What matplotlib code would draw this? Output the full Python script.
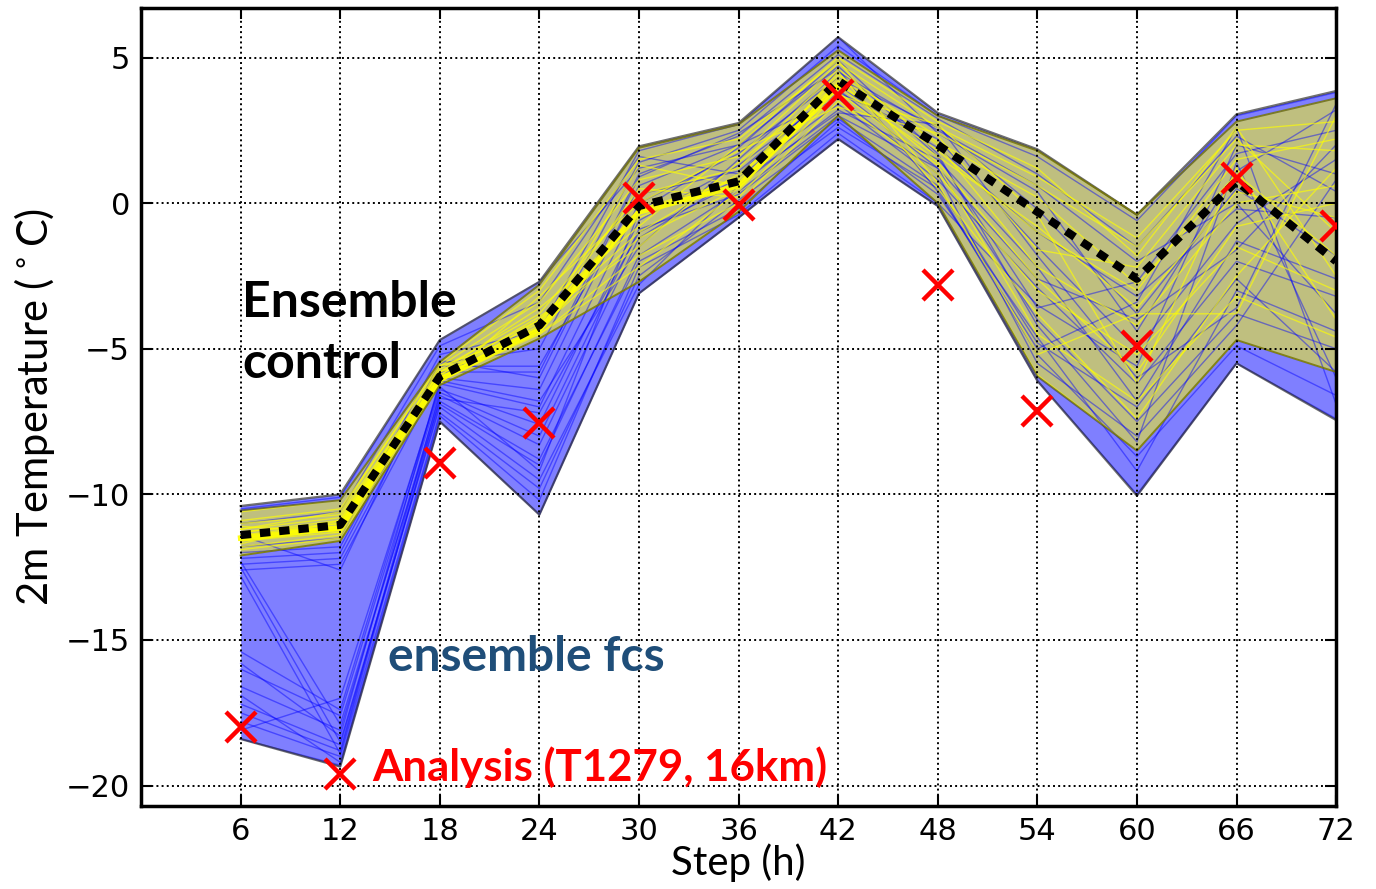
import matplotlib
matplotlib.use('Agg')
import matplotlib.pyplot as plt
import numpy as np

plt.rcParams['font.family'] = 'DejaVu Sans'

steps = [6, 12, 18, 24, 30, 36, 42, 48, 54, 60, 66, 72]

# envelopes of the two ensembles
blue_hi = [-10.4, -10.0, -4.7, -2.7, 1.95, 2.75, 5.7, 3.1, 1.85, -0.4, 3.05, 3.85]
blue_lo = [-18.4, -19.35, -7.5, -10.7, -3.1, -0.5, 2.2, -0.1, -6.1, -10.05, -5.5, -7.45]
yel_hi = [-10.55, -10.2, -5.45, -2.8, 1.9, 2.7, 5.25, 3.0, 1.8, -0.4, 2.8, 3.6]
yel_lo = [-12.1, -11.6, -6.25, -4.65, -2.7, -0.3, 3.0, 0.0, -5.95, -8.5, -4.7, -5.8]

control = [-11.4, -11.05, -5.95, -4.2, -0.1, 0.75, 4.2, 2.0, -0.3, -2.6, 0.75, -2.0]
analysis = [-18.0, -19.6, -8.93, -7.56, 0.17, -0.05, 3.7, -2.8, -7.15, -4.9, 0.86, -0.8]

# individual members (read approximately)
blue_members = [
    [-18.4, -19.3, -7.5, -10.7, -3.1, -0.5, 2.2, -0.1, -6.1, -10.0, -5.5, -7.4],
    [-17.8, -19.0, -7.2, -9.8, -2.5, 0.1, 2.6, 0.5, -5.2, -8.7, -4.9, -6.6],
    [-17.2, -18.6, -6.9, -9.0, -1.8, 0.4, 3.0, 1.2, -4.0, -7.5, -3.8, -5.0],
    [-16.6, -18.1, -6.6, -8.3, -1.2, 0.9, 3.4, 0.8, -2.9, -6.2, -2.0, -3.2],
    [-16.0, -17.6, -6.4, -7.6, -0.6, 1.3, 3.8, 2.2, -1.5, -5.0, -0.7, 1.5],
    [-15.4, -17.4, -6.2, -7.0, 0.0, 1.7, 4.3, 2.6, -0.2, -3.8, 0.5, -1.8],
    [-12.6, -12.4, -6.0, -6.4, 0.6, 2.0, 4.7, 1.6, -3.6, -2.7, 1.7, 2.5],
    [-12.4, -12.2, -5.8, -5.8, 1.0, 2.3, 5.1, 2.9, 1.0, -1.5, 2.3, 0.4],
    [-12.2, -12.0, -5.5, -5.0, 1.4, 2.5, 5.4, 3.0, 1.6, -0.6, 3.0, 3.8],
    [-12.3, -17.9, -6.8, -8.8, -2.0, -0.2, 2.8, 0.3, -4.6, -9.2, -3.0, -4.4],
    [-12.5, -18.5, -7.0, -9.5, -2.8, 0.6, 3.2, 1.5, -2.2, -6.8, -1.3, -2.6],
    [-11.8, -11.5, -5.2, -4.4, 1.8, 2.7, 5.7, 2.4, 0.4, -4.4, 1.1, 3.2],
    [-11.0, -10.6, -4.9, -3.4, 1.6, 1.0, 4.0, 1.9, -1.0, -3.2, -0.2, -0.5],
    [-10.5, -10.1, -4.7, -2.7, 1.2, 2.0, 3.6, 1.0, -5.5, -8.0, -4.2, 0.8],
    [-16.9, -19.2, -7.3, -10.2, -2.2, -0.4, 2.4, 0.0, -3.5, -5.6, 2.0, 1.0],
    [-17.5, -18.8, -6.5, -8.0, -0.9, 0.3, 2.9, 0.6, -4.8, -7.0, -2.6, -5.8],
    [-15.8, -18.3, -6.1, -6.8, -1.5, 1.5, 4.5, 2.5, 0.6, -2.0, 0.0, -3.8],
    [-12.0, -11.8, -5.6, -5.6, 0.3, 1.1, 3.9, 1.2, -2.6, -4.0, -1.6, 2.0],
    [-18.1, -17.0, -6.3, -9.2, -0.3, 1.9, 4.9, 1.7, -4.2, -8.2, 1.4, -6.0],
    [-12.8, -18.9, -6.7, -7.2, -1.0, 0.7, 3.1, 2.7, -1.8, -6.0, -3.6, 3.4],
    [-11.4, -12.6, -5.4, -6.0, 0.9, 2.4, 4.6, 0.4, -5.0, -3.4, 2.6, -6.9],
]
yellow_members = [
    [-12.1, -11.6, -6.25, -4.65, -2.7, -0.3, 3.0, 0.0, -5.9, -8.5, -4.7, -5.8],
    [-10.6, -10.2, -5.45, -2.8, 1.9, 2.7, 5.25, 3.0, 1.8, -0.4, 2.8, 3.6],
    [-11.2, -10.8, -5.8, -4.0, -0.5, 0.9, 4.3, 2.1, 0.2, -2.8, 1.0, -1.8],
    [-11.6, -11.2, -6.0, -4.3, -1.2, 0.5, 4.0, 1.6, -0.8, -3.6, 0.4, -0.5],
    [-11.4, -11.0, -5.9, -4.1, -0.2, 0.8, 4.4, 2.3, -1.6, -2.2, 2.0, 1.8],
    [-10.9, -10.5, -5.6, -3.4, 0.8, 1.6, 4.8, 2.6, 0.9, -1.2, 2.5, 2.8],
    [-11.8, -11.4, -6.1, -4.5, -1.8, 0.0, 3.5, 1.0, -3.0, -5.2, -1.5, -3.0],
    [-11.3, -10.9, -5.7, -3.8, 0.3, 1.2, 4.6, 2.0, -2.2, -4.2, 0.0, 0.6],
    [-11.0, -10.7, -5.8, -3.6, -0.8, 2.0, 5.0, 2.8, 1.2, -1.8, 2.6, -2.5],
    [-11.5, -11.1, -6.0, -4.2, 0.5, 0.2, 3.8, 1.3, -4.5, -6.8, -3.2, -4.6],
    [-11.7, -10.9, -5.9, -3.9, -1.5, 1.4, 4.1, 1.8, -1.0, -3.0, 1.5, 2.2],
    [-11.1, -11.3, -5.6, -4.4, 1.3, 0.6, 4.5, 0.5, -3.8, -7.4, -2.5, 1.2],
    [-11.9, -11.5, -6.2, -3.2, 0.0, 1.8, 3.3, 2.4, 0.6, -1.5, 2.2, -1.0],
    [-11.3, -11.0, -5.8, -4.5, -2.2, 0.4, 4.2, 1.4, -2.6, -5.8, -0.8, 0.0],
    [-11.6, -11.3, -6.1, -4.0, -1.0, 1.0, 3.7, 2.7, -0.4, -6.2, 1.2, -4.0],
    [-11.2, -10.6, -5.5, -3.0, 1.5, 2.2, 4.9, 0.7, -5.2, -3.8, -3.8, 3.0],
]
# yellow member hugging the control run
yellow_close = [-11.5, -11.15, -6.05, -4.35, -0.3, 0.6, 4.0, 1.9, 0.4, -1.0, 1.8, 2.4]

fig = plt.figure(figsize=(13.76, 8.89), dpi=100)
ax = fig.add_axes([0.1025, 0.0934, 0.8685, 0.8976])

# blue ensemble
ax.fill_between(steps, blue_lo, blue_hi, color='blue', alpha=0.5, lw=0)
for m in blue_members:
    ax.plot(steps, m, color='blue', alpha=0.45, lw=1.0)
ax.plot(steps, blue_hi, color='#333333', alpha=0.7, lw=1.6)
ax.plot(steps, blue_lo, color='#333333', alpha=0.7, lw=1.6)

# yellow ensemble
ax.fill_between(steps, yel_lo, yel_hi, color='yellow', alpha=0.5, lw=0)
for m in yellow_members:
    ax.plot(steps, m, color='yellow', alpha=0.65, lw=1.0)
ax.plot(steps[:7], yellow_close[:7], color='yellow', alpha=0.9, lw=4)
ax.plot(steps, yel_hi, color='#444400', alpha=0.6, lw=1.4)
ax.plot(steps, yel_lo, color='#444400', alpha=0.6, lw=1.4)

ax.plot(steps, control, color='k', ls='--', lw=5.8, dashes=(1.3, 1.1))
ax.plot(steps, analysis, ls='none', marker='x', color='red', ms=21, mew=3.2,
        zorder=5)

lato = 'Lato'
ax.text(6.1, -3.9, 'Ensemble', fontsize=36, fontweight='bold', family=lato,
        color='black', va='baseline')
ax.text(6.1, -6.02, 'control', fontsize=36, fontweight='bold', family=lato,
        color='black', va='baseline')
ax.text(14.9, -16.08, 'ensemble fcs', fontsize=34.5, fontweight='bold',
        family=lato, color='#1f4e79', va='baseline')
ax.text(13.95, -19.83, 'Analysis (T1279, 16km)', fontsize=31.5,
        fontweight='bold', family=lato, color='red', va='baseline')

ax.set_xlim(0, 72)
ax.set_ylim(-20.7, 6.7)
ax.set_xticks(steps)
ax.set_yticks([-20, -15, -10, -5, 0, 5])
ax.grid(True, ls=':', color='k', lw=1.4)
ax.set_axisbelow(False)
ax.tick_params(direction='in', top=True, right=True, length=8, width=1.5,
               labelsize=22, pad=8)
for s in ax.spines.values():
    s.set_linewidth(2.5)

ax.set_xlabel('Step (h)', fontsize=29, family=lato, labelpad=-2)
ax.set_ylabel(r'2m Temperature ($^\circ$C)', fontsize=30, family=lato,
              labelpad=6)

fig.savefig('out.png', dpi=100)
